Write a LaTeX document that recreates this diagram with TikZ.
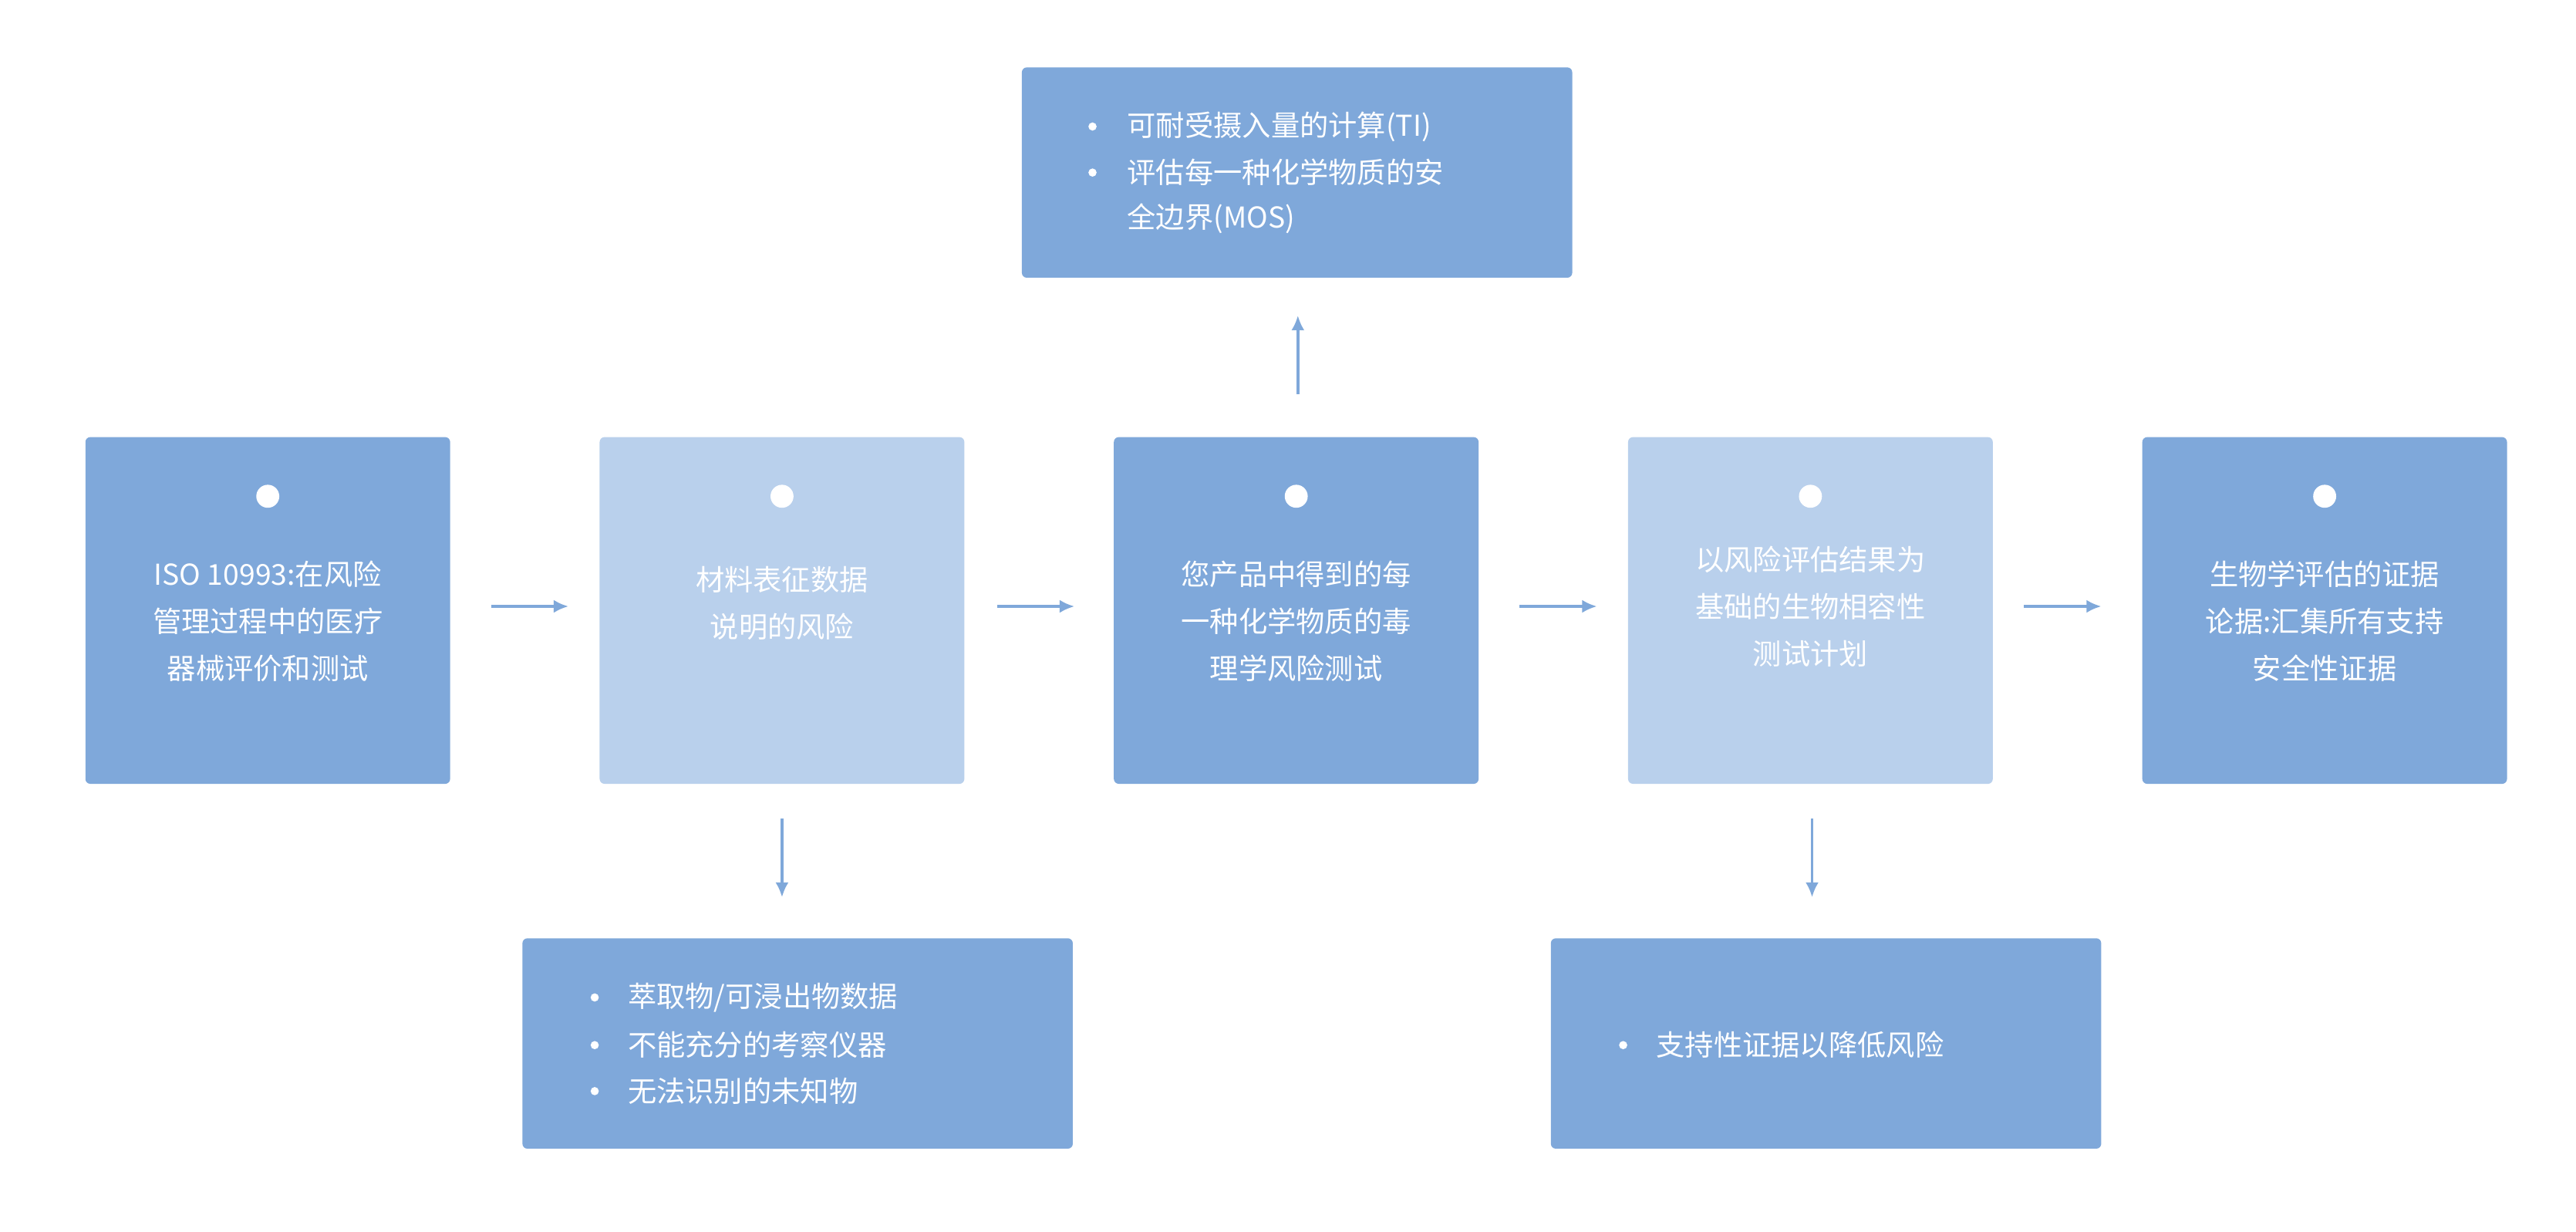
\documentclass[tikz,border=0pt]{standalone}
\usepackage{fontspec}
\setmainfont{Noto Sans CJK SC}
\begin{document}
\begin{tikzpicture}[x=1pt,y=-1pt,
  dk/.style={fill=dkc,rounded corners=3pt,draw=none},
  lt/.style={fill=ltc,rounded corners=3pt,draw=none},
  txt/.style={text=white,font=\fontsize{17.5}{28.5}\selectfont,align=center},
  li/.style={text=white,font=\fontsize{17.5}{28}\selectfont,anchor=west,inner sep=0pt},
  dot/.style={circle,fill=white,minimum size=14pt,inner sep=0pt},
  bul/.style={circle,fill=white,minimum size=5pt,inner sep=0pt},
  arr/.style={draw=dkc,line width=1.6pt,-{Latex[length=9pt,width=8pt]}}]
\definecolor{dkc}{HTML}{7FA8DA}
\definecolor{ltc}{HTML}{B9D0EC}
\usetikzlibrary{arrows.meta}
\useasboundingbox (0,0) rectangle (1568,749.3);
\fill[white] (0,0) rectangle (1568,749.3);
% main boxes
\path[dk] (52,266) rectangle (274,477);
\path[lt] (365,266) rectangle (587,477);
\path[dk] (678,266) rectangle (900,477);
\path[lt] (991,266) rectangle (1213,477);
\path[dk] (1304,266) rectangle (1526,477);
\path[dk] (622,41) rectangle (957,169);
\path[dk] (318,571) rectangle (653,699);
\path[dk] (944,571) rectangle (1279,699);
\foreach \x/\n in {163/a,476/b,789/c,1102/d,1415/e}{\node[dot] (d\n) at (\x,302) {};}
\node[txt] (t1) at (163,378) {ISO 10993:在风险\\管理过程中的医疗\\器械评价和测试};
\node[txt] (t2) at (476,367) {材料表征数据\\说明的风险};
\node[txt] (t3) at (789,378) {您产品中得到的每\\一种化学物质的毒\\理学风险测试};
\node[txt] (t4) at (1102,369) {以风险评估结果为\\基础的生物相容性\\测试计划};
\node[txt] (t5) at (1415,378) {生物学评估的证据\\论据:汇集所有支持\\安全性证据};
% top list
\node[bul] (b1) at (665,77) {};
\node[li] (l1) at (686,77) {可耐受摄入量的计算(TI)};
\node[bul] (b2) at (665,105) {};
\node[li] (l2) at (686,105) {评估每一种化学物质的安};
\node[li] (l3) at (686,133) {全边界(MOS)};
% bottom left
\node[bul] (b4) at (362,607) {};
\node[li] (l4) at (382,607) {萃取物/可浸出物数据};
\node[bul] (b5) at (362,636) {};
\node[li] (l5) at (382,636) {不能充分的考察仪器};
\node[bul] (b6) at (362,664) {};
\node[li] (l6) at (382,664) {无法识别的未知物};
% bottom right
\node[bul] (b7) at (988,636) {};
\node[li] (l7) at (1008,636) {支持性证据以降低风险};
% arrows
\coordinate (h1s) at (299,369); \coordinate (h1e) at (346,369);
\coordinate (h2s) at (607,369); \coordinate (h2e) at (654,369);
\coordinate (h3s) at (925,369); \coordinate (h3e) at (972,369);
\coordinate (h4s) at (1232,369); \coordinate (h4e) at (1279,369);
\coordinate (us) at (790,240); \coordinate (ue) at (790,192);
\coordinate (ds1) at (476,498); \coordinate (de1) at (476,546);
\coordinate (ds2) at (1103,498); \coordinate (de2) at (1103,546);
\draw[arr] (h1s) -- (h1e);
\draw[arr] (h2s) -- (h2e);
\draw[arr] (h3s) -- (h3e);
\draw[arr] (h4s) -- (h4e);
\draw[arr] (us) -- (ue);
\draw[arr] (ds1) -- (de1);
\draw[arr] (ds2) -- (de2);
\end{tikzpicture}
\end{document}
